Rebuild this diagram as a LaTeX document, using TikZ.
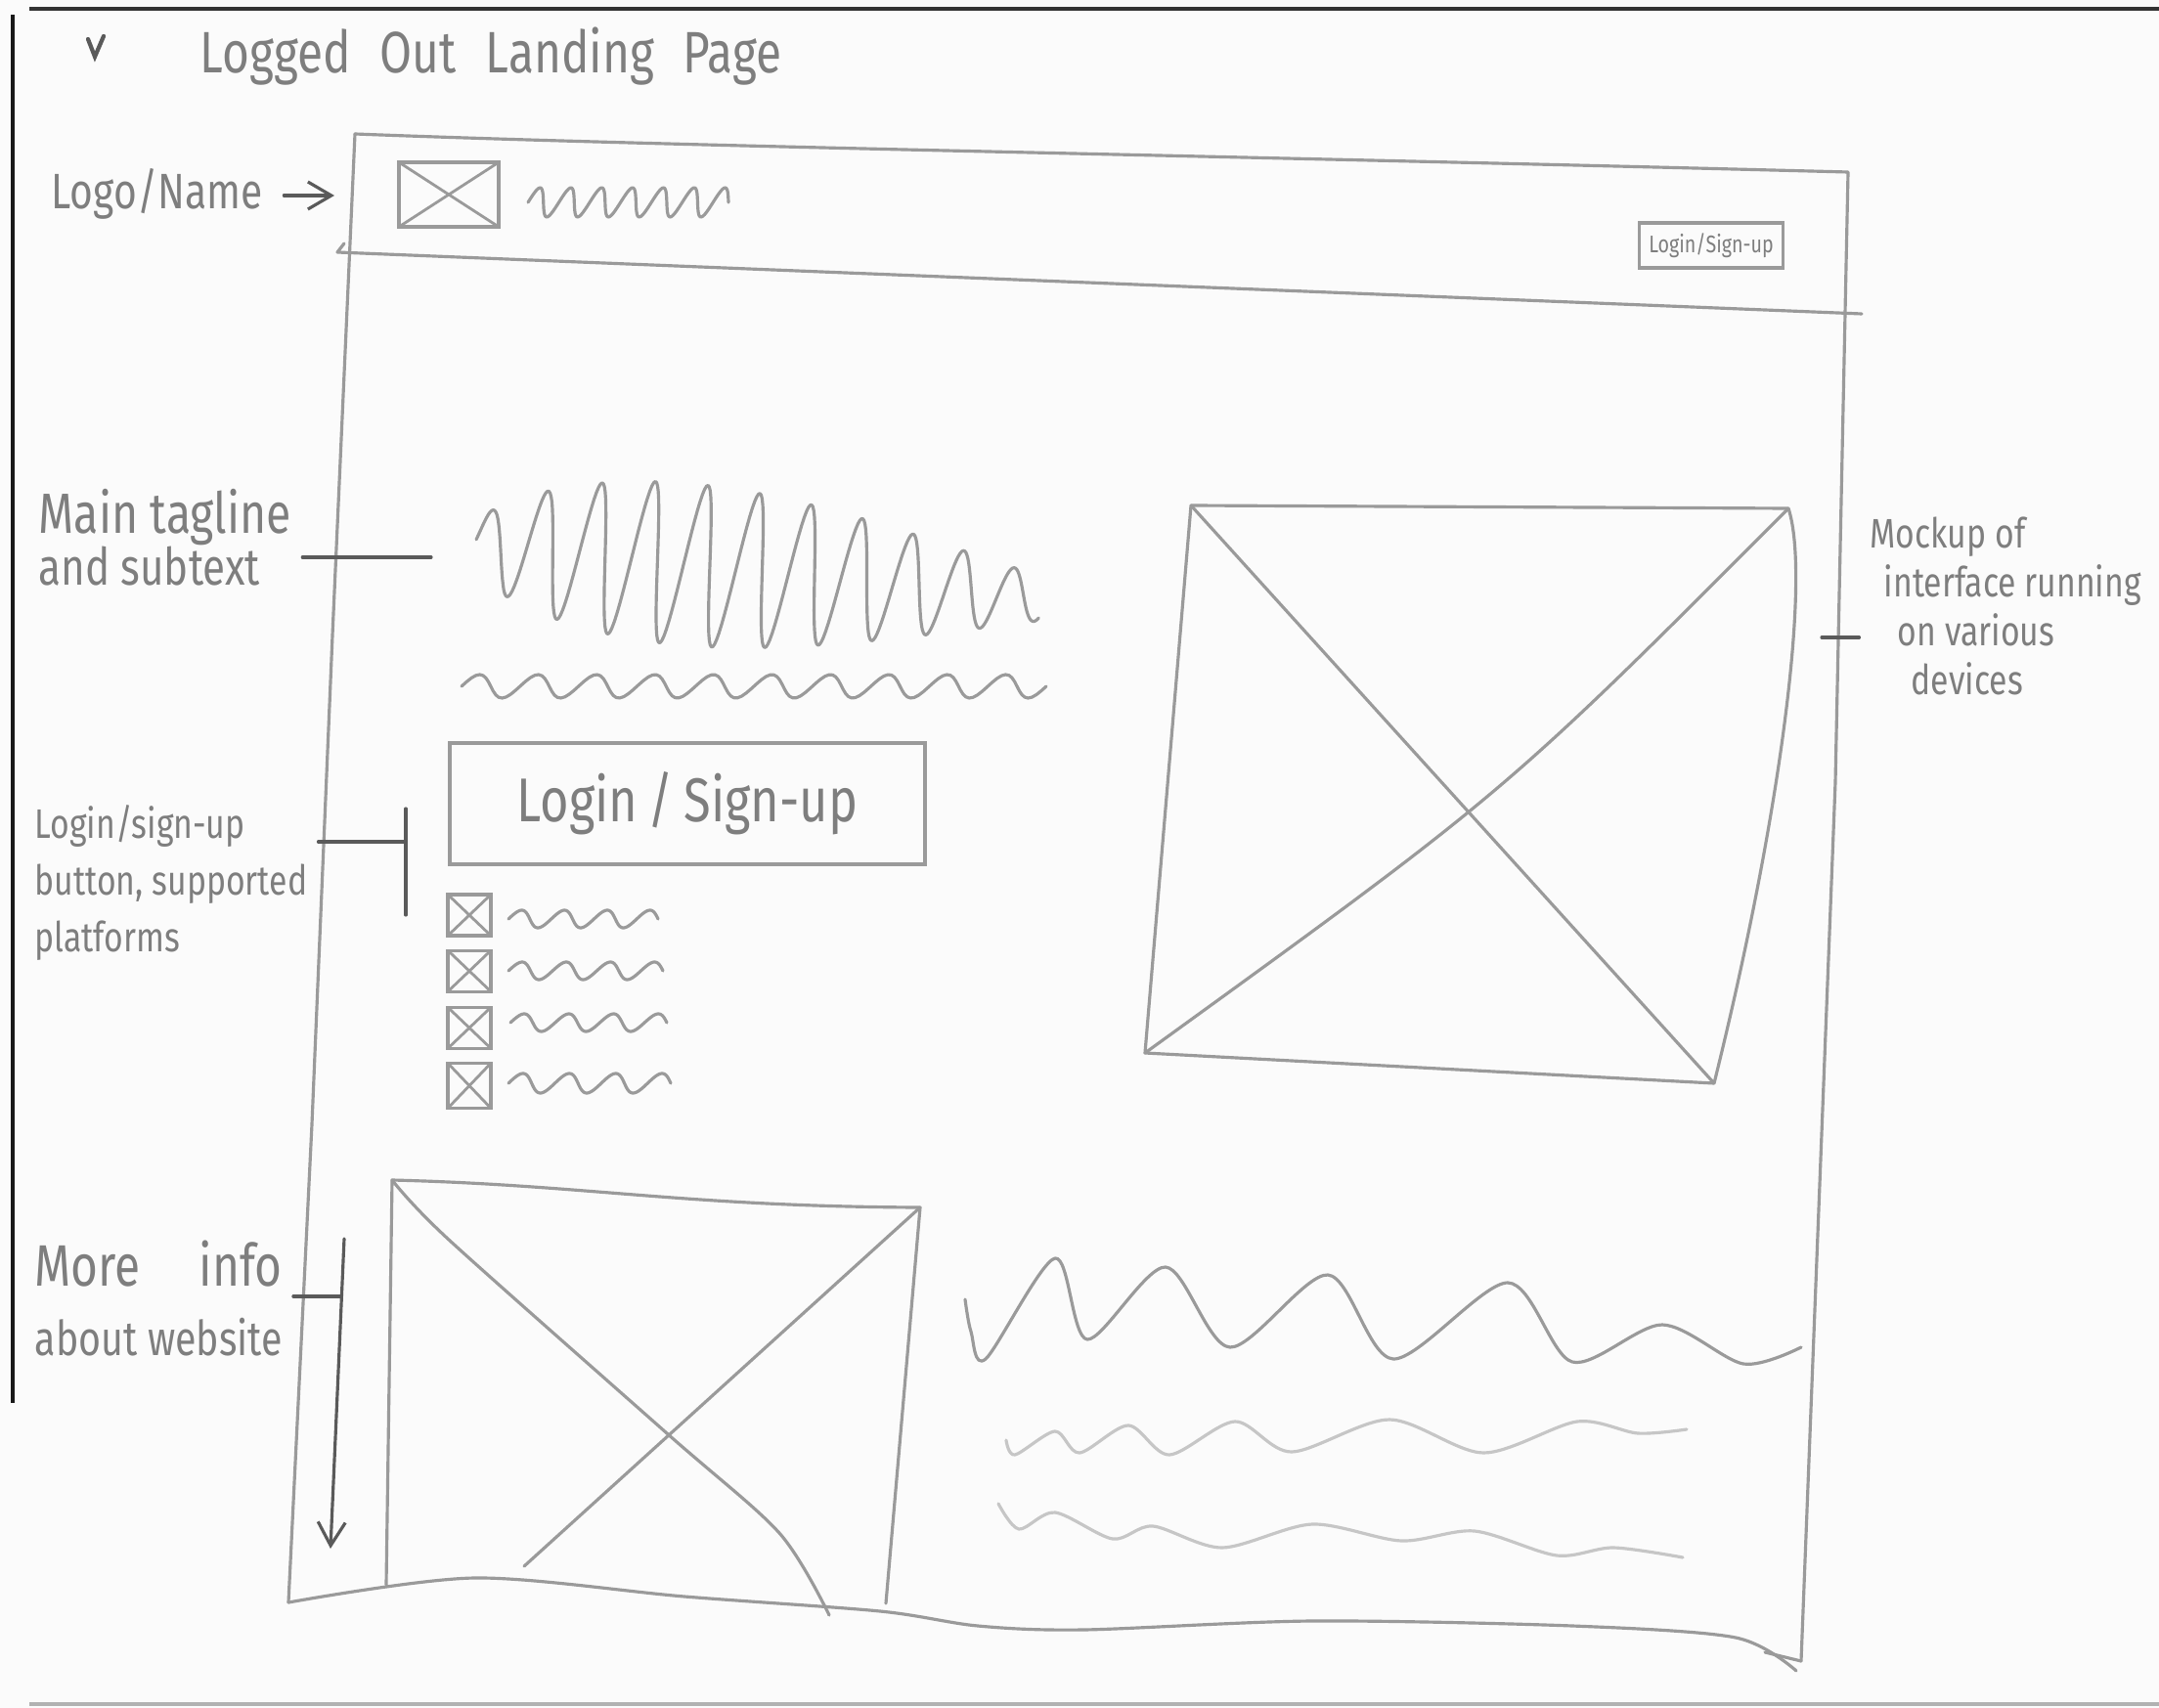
\documentclass[tikz,border=0pt]{standalone}
\usepackage{fontspec}
\setmainfont{Fira Sans}[FakeStretch=0.8]
\usetikzlibrary{arrows,arrows.meta,positioning}
\definecolor{paper}{HTML}{FBFBFB}
\definecolor{pencil}{HTML}{9A9A9A}
\definecolor{faint}{HTML}{C6C6C6}
\definecolor{lead}{HTML}{5A5A5A}
\definecolor{script}{HTML}{7E7E7E}
\newcommand{\scrawl}[6][]{% x0, yc, length, cycles, amplitude
    \draw[sketch,#1] plot[domain=0:#5*360, samples=160, variable=\t]
        ({#2+#4*(\t/(#5*360))+0.3*#6*sin(\t)}, {#3+#6*sin(\t)});}
\tikzset{
    %Define standard arrow tip
    >={Straight Barb[length=2.4mm,width=2.8mm]},
    %Define style for pencil lines of the wireframe
    sketch/.style={
           draw=pencil,
           line width=0.9pt,
           line join=round,
           line cap=round},
    %Define style for image placeholders
    imgbox/.style={
           rectangle,
           draw=pencil,
           line width=0.9pt,
           inner sep=0pt,
           path picture={
               \draw[pencil, line width=0.8pt]
                   (path picture bounding box.north west) -- (path picture bounding box.south east)
                   (path picture bounding box.north east) -- (path picture bounding box.south west);}},
    %Define style for buttons
    button/.style={
           rectangle,
           draw=pencil,
           line width=0.9pt,
           text=script,
           inner sep=0pt},
    %Define style for margin notes
    note/.style={
           text=script,
           align=left,
           inner sep=0pt},
    % Define pointer style
    pointer/.style={
           draw=lead,
           line width=0.9pt,
           line cap=round},
    % Define edges of the scanned sheet
    sheetedge/.style={
           line width=1.4pt,
           line cap=butt}
}
\begin{document}
\begin{tikzpicture}[x=1cm, y=1cm,
    declare function={tagamp(\t)=0.22+0.6*sin(180*pow(\t/3900,0.7));}]
 %sheet
    \fill[paper] (0,0) rectangle (22.08,-17.47);
    \useasboundingbox (0,0) rectangle (22.08,-17.47);
    \draw[sheetedge, draw=black!80] (0.3,-0.09) -- (22.08,-0.09);
    \draw[sheetedge, draw=black!90] (0.13,-0.15) -- (0.13,-14.35);
    \draw[sheetedge, draw=black!30, line width=1pt] (0.3,-17.43) -- (22.08,-17.43);
 %title
    \draw[pointer, line width=1.2pt] (0.90,-0.40) -- (0.97,-0.58) -- (1.06,-0.37);
    \node[note, anchor=west, font=\fontsize{17}{20}\selectfont] (title) at (2.04,-0.58)
        {Logged\enskip Out\enskip Landing\enskip Page};
 %page frame
    \coordinate (ftl) at (3.63,-1.37);
    \coordinate (ftr) at (18.90,-1.76);
    \coordinate (fbr) at (18.42,-16.99);
    \coordinate (fbl) at (2.95,-16.39);
    \draw[sketch] (ftl) .. controls (7,-1.50) and (12,-1.58) .. (ftr) -- (18.77,-8.0) -- (fbr);
    \draw[sketch] (ftl) -- (3.40,-6.5) -- (3.19,-11.5) -- (fbl);
    \draw[sketch] plot[smooth] coordinates {(fbl) (4.85,-16.14) (7.0,-16.33) (9.0,-16.48)
        (10.0,-16.63) (11.08,-16.67) (13.42,-16.58) (16.08,-16.63) (17.75,-16.75) (18.37,-17.09)};
    \draw[sketch] (18.05,-16.90) -- (fbr);
    \draw[sketch] (3.52,-2.49) -- (3.45,-2.58) -- (19.04,-3.21);
 %header
    \node[imgbox, minimum width=1.02cm, minimum height=0.66cm] (logo) at (4.59,-1.99) {};
    \scrawl{5.40}{-2.07}{2.05}{6.5}{0.15}
    \node[button, minimum width=1.47cm, minimum height=0.46cm,
          font=\fontsize{7}{8}\selectfont] (headlogin) at (17.50,-2.51) {Login/Sign-up};
 %tagline and subtext
    \draw[sketch] plot[domain=10:3900, samples=400, variable=\t]
        ({4.85+5.80*(\t/3900)+0.14*tagamp(\t)*sin(\t)}, {-5.56-0.57*(\t/3900)+tagamp(\t)*sin(\t)});
    \scrawl{4.72}{-7.02}{5.98}{10}{0.12}
 %login button and platforms
    \node[button, minimum width=4.86cm, minimum height=1.24cm,
          font=\fontsize{18}{20}\selectfont] (mainlogin) at (7.03,-8.22) {Login\,/\,Sign-up};
    \node[imgbox, minimum width=0.44cm, minimum height=0.42cm] (plat1) at (4.80,-9.36) {};
    \node[imgbox, minimum width=0.44cm, minimum height=0.42cm, below=0.12cm of plat1] (plat2) {};
    \node[imgbox, minimum width=0.44cm, minimum height=0.42cm, below=0.13cm of plat2] (plat3) {};
    \node[imgbox, minimum width=0.44cm, minimum height=0.46cm, below=0.12cm of plat3] (plat4) {};
    \scrawl{5.20}{-9.40}{1.53}{3.5}{0.09}
    \scrawl{5.20}{-9.93}{1.58}{3.5}{0.09}
    \scrawl{5.22}{-10.46}{1.60}{3.5}{0.09}
    \scrawl{5.20}{-11.08}{1.66}{3.5}{0.10}
 %mockup
    \coordinate (mtl) at (12.18,-5.17);
    \coordinate (mtr) at (18.29,-5.20);
    \coordinate (mbr) at (17.53,-11.08);
    \coordinate (mbl) at (11.71,-10.77);
    \draw[sketch] (mtl) -- (mtr) .. controls (18.52,-5.9) and (18.22,-8.3) .. (mbr) -- (mbl) -- cycle;
    \draw[sketch] (mtl) -- (mbr);
    \draw[sketch] (mtr) .. controls (15.4,-8.1) .. (mbl);
 %more info
    \coordinate (btl) at (4.01,-12.07);
    \coordinate (btr) at (9.41,-12.35);
    \coordinate (bbr) at (9.06,-16.40);
    \coordinate (bbl) at (3.95,-16.21);
    \draw[sketch] (bbl) -- (btl) .. controls (6.0,-12.12) and (7.0,-12.34) .. (btr) -- (bbr);
    \draw[sketch] plot[smooth] coordinates {(btl) (4.59,-12.68) (6.82,-14.66) (7.97,-15.68) (8.48,-16.52)};
    \draw[sketch] (btr) -- (5.36,-16.02);
    \draw[sketch] plot[smooth] coordinates {(9.87,-13.29) (9.93,-13.62) (10.08,-13.90) (10.79,-12.87)
        (11.12,-13.70) (11.92,-12.96) (12.58,-13.78) (13.58,-13.04) (14.25,-13.90) (15.42,-13.12)
        (16.08,-13.93) (17.00,-13.55) (17.83,-13.95) (18.42,-13.78)};
    \draw[sketch, draw=faint] plot[smooth] coordinates {(10.29,-14.73) (10.38,-14.88) (10.79,-14.64)
        (11.04,-14.86) (11.54,-14.58) (11.96,-14.88) (12.63,-14.54) (13.21,-14.85) (14.21,-14.52)
        (15.17,-14.86) (16.13,-14.54) (16.75,-14.66) (17.25,-14.62)};
    \draw[sketch, draw=faint] plot[smooth] coordinates {(10.21,-15.38) (10.42,-15.64) (10.79,-15.47)
        (11.38,-15.74) (11.79,-15.61) (12.50,-15.83) (13.42,-15.59) (14.33,-15.76) (15.08,-15.66)
        (15.92,-15.91) (16.50,-15.83) (17.21,-15.93)};
 %notes
    \node[note, anchor=west, font=\fontsize{14.5}{18}\selectfont] (lognote) at (0.52,-1.98) {Logo/Name};
    \node[note, anchor=west, font=\fontsize{15}{15}\selectfont] (tagnote) at (0.39,-5.50)
        {{\fontsize{16.5}{15}\selectfont Main tagline}\\and subtext};
    \node[note, anchor=west, font=\fontsize{12}{16.6}\selectfont] (loginnote) at (0.35,-9.03)
        {Login/sign-up\\button, supported\\platforms};
    \node[note, anchor=west, font=\fontsize{14}{20}\selectfont] (morenote) at (0.35,-13.28)
        {{\fontsize{17}{20}\selectfont More\quad info}\\about website};
    \node[note, anchor=west, font=\fontsize{12}{14.3}\selectfont] (mocknote) at (19.12,-6.20)
        {Mockup of\\\hspace*{0.14cm}interface running\\\hspace*{0.28cm}on various\\\hspace*{0.42cm}devices};
 %pointers
    \coordinate (logtip) at (3.42,-2.00);
    \coordinate (tagend) at (4.41,-5.70);
    \coordinate (loginbrk) at (4.15,-8.61);
    \coordinate (brktop) at (4.15,-8.27);
    \coordinate (brkbot) at (4.15,-9.36);
    \coordinate (mockedge) at (18.63,-6.52);
    \coordinate (moreedge) at (3.49,-13.26);
    \coordinate (scrolltop) at (3.52,-12.67);
    \coordinate (scrollend) at (3.38,-15.84);
    \draw[pointer, ->, shorten <=6pt] (lognote.east |- logtip) -- (logtip);
    \draw[pointer, shorten <=3pt] (tagnote.east |- tagend) -- (tagend);
    \draw[pointer, shorten <=3pt] (loginnote.east |- loginbrk) -- (loginbrk);
    \draw[pointer] (brktop) -- (brkbot);
    \draw[pointer, shorten >=3pt] (mockedge) -- (mocknote.west |- mockedge);
    \draw[pointer, shorten <=3pt] (morenote.east |- moreedge) -- (moreedge);
    \draw[pointer, ->] (scrolltop) -- (scrollend);
  \end{tikzpicture}
\end{document}
